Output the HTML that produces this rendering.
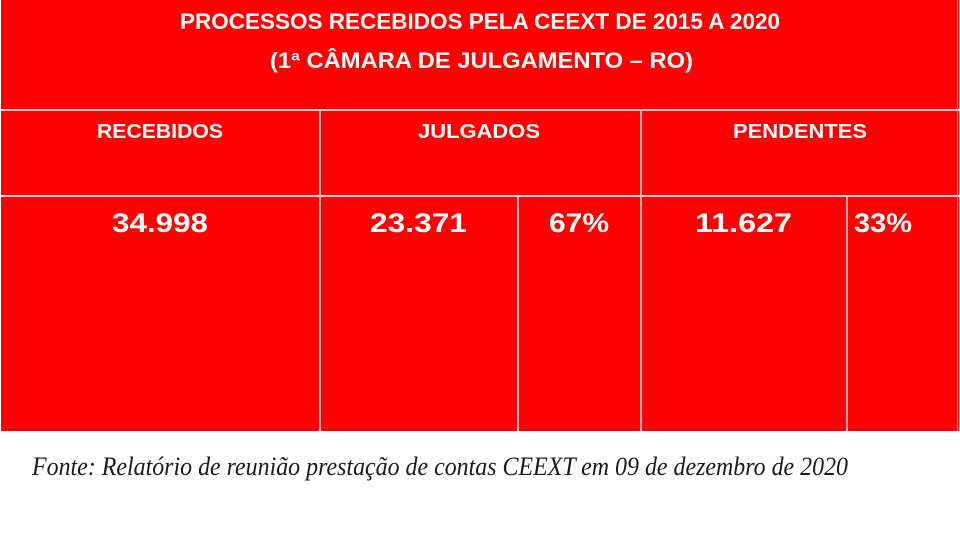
<!DOCTYPE html>
<html>
<head>
<meta charset="utf-8">
<style>
html,body{margin:0;padding:0;background:#fff;}
svg{display:block;}
</style>
</head>
<body>
<svg width="960" height="540" viewBox="0 0 960 540" xmlns="http://www.w3.org/2000/svg">
  <rect x="0" y="0" width="960" height="540" fill="#ffffff"/>
  <rect x="1" y="0" width="958" height="431" fill="#fe0000"/>
  <!-- grid lines -->
  <rect x="1" y="109" width="958" height="2" fill="#f6d2d2"/>
  <rect x="1" y="195" width="958" height="2" fill="#f6d2d2"/>
  <rect x="319" y="111" width="2" height="320" fill="#f4b0b0"/>
  <rect x="640" y="111" width="2" height="320" fill="#f4b0b0"/>
  <rect x="517" y="197" width="2" height="234" fill="#f4b0b0"/>
  <rect x="846" y="197" width="2" height="234" fill="#f4b0b0"/>
  <rect x="957" y="0" width="1" height="431" fill="#f48080"/>

  <g font-family="'Liberation Sans', sans-serif" font-weight="bold" fill="#ffffff">
    <text x="180" y="29" font-size="22" textLength="600" lengthAdjust="spacingAndGlyphs">PROCESSOS RECEBIDOS PELA CEEXT DE 2015 A 2020</text>
    <text x="270" y="68" font-size="22" textLength="423" lengthAdjust="spacingAndGlyphs">(1ª CÂMARA DE JULGAMENTO – RO)</text>

    <text x="97" y="138" font-size="20" textLength="126" lengthAdjust="spacingAndGlyphs">RECEBIDOS</text>
    <text x="418" y="138" font-size="20" textLength="122" lengthAdjust="spacingAndGlyphs">JULGADOS</text>
    <text x="733" y="138" font-size="20" textLength="134" lengthAdjust="spacingAndGlyphs">PENDENTES</text>

    <text x="112" y="232" font-size="27" textLength="96" lengthAdjust="spacingAndGlyphs">34.998</text>
    <text x="370" y="232" font-size="27" textLength="97" lengthAdjust="spacingAndGlyphs">23.371</text>
    <text x="549" y="232" font-size="27" textLength="60" lengthAdjust="spacingAndGlyphs">67%</text>
    <text x="695" y="232" font-size="27" textLength="97" lengthAdjust="spacingAndGlyphs">11.627</text>
    <text x="854" y="232" font-size="27" textLength="58" lengthAdjust="spacingAndGlyphs">33%</text>
  </g>

  <text x="32" y="475" font-family="'Liberation Serif', serif" font-style="italic" font-size="26" fill="#1a1a1a" textLength="816" lengthAdjust="spacingAndGlyphs">Fonte: Relatório de reunião prestação de contas CEEXT em 09 de dezembro de 2020</text>
</svg>
</body>
</html>
